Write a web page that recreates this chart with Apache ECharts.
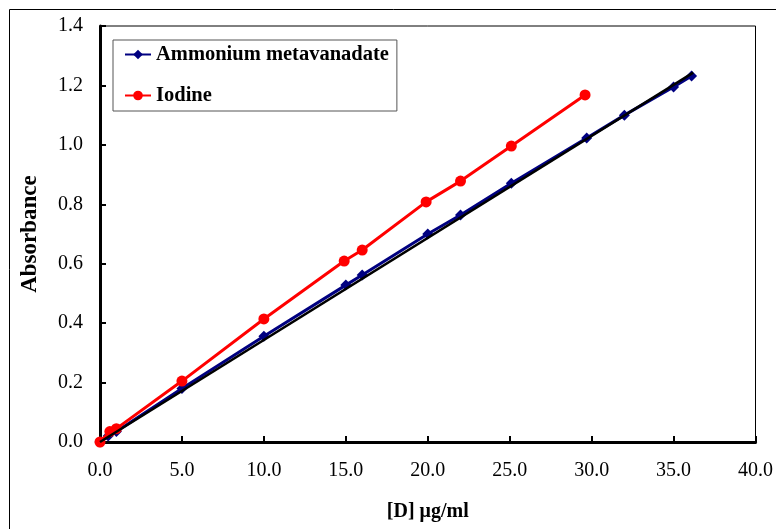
<!DOCTYPE html>
<html>
<head>
<meta charset="utf-8">
<script src="https://cdn.jsdelivr.net/npm/echarts@6/dist/echarts.min.js"></script>
<style>
  html, body { margin: 0; padding: 0; background: #fff; }
  #chart { width: 776px; height: 529px; }
</style>
</head>
<body>
<div id="chart"></div>
<script>
// concentration [D] µg/ml vs absorbance
var vanadateX = [0, 0.5, 1, 5, 10, 15, 16, 20, 22, 25.1, 29.7, 32, 35, 36.1];
var vanadateY = [0, 0.02, 0.035, 0.18, 0.356, 0.528, 0.562, 0.70, 0.764, 0.871, 1.023, 1.10, 1.195, 1.232];

var iodineX = [0, 0.6, 1, 5, 10, 14.9, 16, 19.9, 22, 25.1, 29.6];
var iodineY = [0, 0.035, 0.045, 0.205, 0.414, 0.609, 0.646, 0.808, 0.878, 0.996, 1.168];

// linear trendline drawn over the vanadate series
var trendX = [0, 36.2];
var trendY = [0, 1.243];

function pairs(xs, ys) {
  return xs.map(function (x, i) { return [x, ys[i]]; });
}

var serif = '"Liberation Serif", "Times New Roman", serif';

var chart = echarts.init(document.getElementById('chart'));

chart.setOption({
  animation: false,
  backgroundColor: '#fff',
  textStyle: { fontFamily: serif },
  grid: {
    left: 100, top: 26, right: 15, bottom: 87,
    show: true, borderColor: '#000', borderWidth: 1
  },
  graphic: [{
    type: 'rect',
    shape: { x: 9.5, y: 9.5, width: 800, height: 600 },
    style: { fill: null, stroke: '#000', lineWidth: 1 },
    silent: true
  }],
  legend: {
    orient: 'vertical',
    left: 113, top: 40,
    padding: [4, 8, 5, 11],
    itemWidth: 26, itemHeight: 12,
    itemGap: 20,
    borderColor: '#555', borderWidth: 1,
    textStyle: { fontFamily: serif, fontSize: 20.5, fontWeight: 'bold', color: '#000' },
    data: ['Ammonium metavanadate', 'Iodine']
  },
  xAxis: {
    type: 'value',
    min: 0, max: 40, interval: 5,
    name: '[D] \u03bcg/ml',
    nameLocation: 'middle',
    nameGap: 60,
    nameTextStyle: { fontFamily: serif, fontSize: 20, fontWeight: 'bold', color: '#000' },
    axisLine: { lineStyle: { color: '#000', width: 3 } },
    axisTick: { inside: true, length: 6, lineStyle: { color: '#000', width: 2 } },
    axisLabel: {
      margin: 19,
      fontFamily: serif, fontSize: 20, color: '#000',
      formatter: function (v) { return v.toFixed(1); }
    },
    splitLine: { show: false }
  },
  yAxis: {
    type: 'value',
    min: 0, max: 1.4, interval: 0.2,
    name: 'Absorbance',
    nameLocation: 'middle',
    nameGap: 58,
    nameTextStyle: { fontFamily: serif, fontSize: 23, fontWeight: 'bold', color: '#000' },
    axisLine: { lineStyle: { color: '#000', width: 3 } },
    axisTick: { inside: true, length: 6, lineStyle: { color: '#000', width: 2 } },
    axisLabel: {
      margin: 17,
      fontFamily: serif, fontSize: 20, color: '#000',
      formatter: function (v) { return v.toFixed(1); }
    },
    splitLine: { show: false }
  },
  series: [
    {
      name: 'Ammonium metavanadate',
      type: 'line',
      data: pairs(vanadateX, vanadateY),
      symbol: 'diamond',
      symbolSize: 11,
      color: '#000080',
      lineStyle: { color: '#000080', width: 3 },
      itemStyle: { color: '#000080' },
      z: 2
    },
    {
      name: 'Iodine',
      type: 'line',
      data: pairs(iodineX, iodineY),
      symbol: 'circle',
      symbolSize: 11,
      color: '#ff0000',
      lineStyle: { color: '#ff0000', width: 3 },
      itemStyle: { color: '#ff0000' },
      z: 3
    },
    {
      name: 'trend',
      type: 'line',
      data: pairs(trendX, trendY),
      symbol: 'none',
      lineStyle: { color: '#000', width: 2.5 },
      z: 4
    }
  ]
});
</script>
</body>
</html>
